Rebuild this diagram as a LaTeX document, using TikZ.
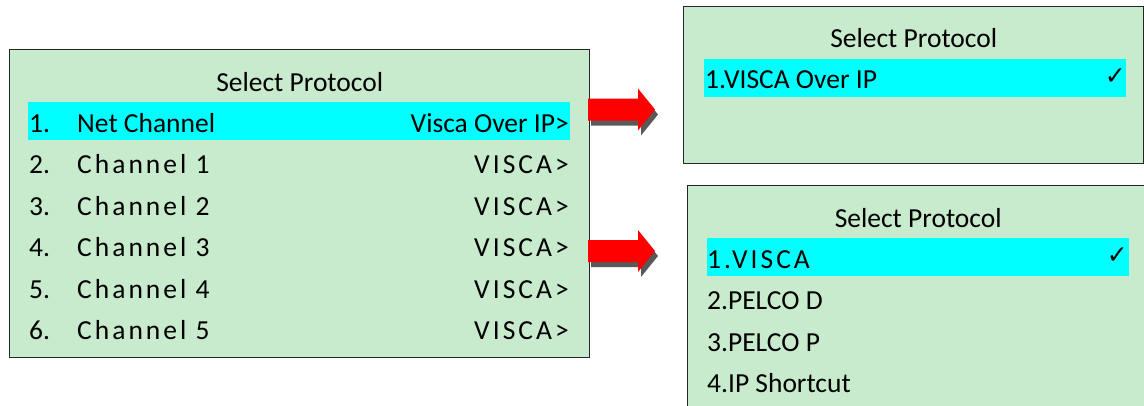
\documentclass[tikz,border=0pt]{standalone}
\usepackage{fontspec}
\setmainfont{Carlito}
\newfontfamily\spaced[LetterSpace=11]{Carlito}
\newfontfamily\symb{DejaVu Sans}
\definecolor{menugreen}{RGB}{199,235,204}
\definecolor{barcyan}{RGB}{0,255,255}
\definecolor{shadowgray}{RGB}{89,89,89}
\newcommand{\blockarrow}[1]{%
	\fill[shadowgray] ([shift={(3,5)}]#1) ++(0,-11) -- ++(50,0) -- ++(0,-10) -- ++(17,21) -- ++(-17,21) -- ++(0,-10) -- ++(-50,0) -- cycle;
	\fill[red] (#1) ++(0,-11) -- ++(50,0) -- ++(0,-10) -- ++(17,21) -- ++(-17,21) -- ++(0,-10) -- ++(-50,0) -- cycle;}
\begin{document}
\begin{tikzpicture}[x=1pt,y=-1pt,
		menu/.style={draw=black!85,line width=1.4pt,fill=menugreen,inner sep=0,anchor=north west},
		bar/.style={fill=barcyan,inner sep=0,anchor=north west,minimum height=38},
		txt/.style={inner sep=0,anchor=base west,font=\fontsize{27.5}{33}\selectfont},
		tick/.style={inner sep=0,anchor=east,font=\symb\fontsize{25}{25}\selectfont}]
	\useasboundingbox (0,0) rectangle (1144,405);
	\clip (0,0) rectangle (1144,405);
	% left menu
	\node[menu,minimum width=580,minimum height=308] (main) at (9,49) {};
	\node[bar,minimum width=542] (sel) at (28,102) {};
	\node[txt,anchor=base] (title) at (main.center |- 0,91) {Select Protocol};
	\node[txt] (num0) at (29,132) {1.};
	\node[txt] (net) at (77,132) {Net Channel};
	\node[txt,anchor=base east] (val0) at (569,132) {Visca Over IP>};
	\foreach \i [evaluate=\i as \y using 132+41.5*\i, evaluate=\i as \n using int(\i+1)] in {1,...,5} {
		\node[txt] (num\i) at (29,\y) {\n.};
		\node[txt] (ch\i) at (77,\y) {\spaced Channel \i};
		\node[txt,anchor=base east] (val\i) at (569,\y) {\spaced VISCA>};
	}
	% top right menu
	\node[menu,minimum width=460,minimum height=157] (ipmenu) at (683,6) {};
	\node[bar,minimum width=422] (ipsel) at (704,59) {};
	\node[txt,anchor=base] (iptitle) at (ipmenu.center |- 0,47) {Select Protocol};
	\node[txt] (ip1) at (705,88) {1.VISCA Over IP};
	\node[tick] (tick1) at (1126,77) {✓};
	% bottom right menu
	\node[menu,minimum width=461,minimum height=240] (protomenu) at (687,185) {};
	\node[bar,minimum width=422] (protosel) at (707,238) {};
	\node[txt,anchor=base] (prototitle) at (protomenu.center |- 0,227) {Select Protocol};
	\node[txt] (proto1) at (707,268) {\spaced 1.VISCA};
	\foreach \lab/\y [count=\k from 2] in {2.PELCO D/309.5,3.PELCO P/351,4.IP Shortcut/392.5}
		\node[txt] (proto\k) at (707,\y) {\lab};
	\node[tick] (tick2) at (1128,256) {✓};
	% arrows
	\coordinate (a1) at (588,109.5);
	\coordinate (a2) at (588,251);
	\blockarrow{a1}
	\blockarrow{a2}
\end{tikzpicture}
\end{document}
